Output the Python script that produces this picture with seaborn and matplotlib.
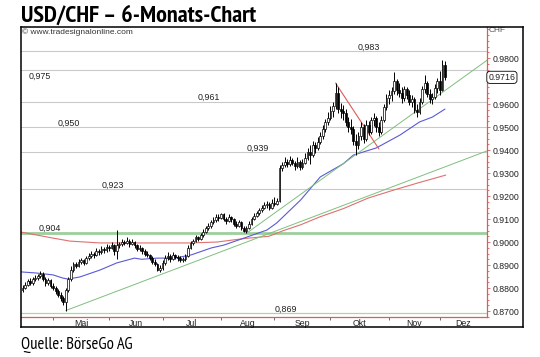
import matplotlib

matplotlib.use("Agg")
import matplotlib.pyplot as plt
import numpy as np
import pandas as pd
import seaborn as sns
from matplotlib.ticker import MultipleLocator

# --- data --------------------------------------------------------------------------------
FIRST_DAY = "2014-04-15"  # first daily candle; one bar per weekday

opens = [
    0.8790, 0.8800, 0.8815, 0.8830, 0.8822, 0.8838, 0.8845, 0.8852, 0.8860, 0.8840, 0.8820, 0.8835,
    0.8810, 0.8800, 0.8785, 0.8770, 0.8755, 0.8740, 0.8790, 0.8840, 0.8880, 0.8905,
    0.8895, 0.8915, 0.8920, 0.8910, 0.8930, 0.8940, 0.8950, 0.8945, 0.8960, 0.8955,
    0.8970, 0.8965, 0.8980, 0.8975, 0.8985, 0.8960, 0.8985, 0.8990, 0.9000, 0.8995,
    0.9005, 0.8990, 0.9000, 0.8985, 0.8970, 0.8975, 0.8960, 0.8950, 0.8945, 0.8930,
    0.8915, 0.8905, 0.8880, 0.8885, 0.8910, 0.8930, 0.8940, 0.8925, 0.8945, 0.8935,
    0.8930, 0.8920, 0.8925, 0.8940, 0.8975, 0.8995, 0.9005, 0.9020, 0.9015, 0.9030,
    0.9045, 0.9060, 0.9070, 0.9085, 0.9095, 0.9110, 0.9105, 0.9120, 0.9100, 0.9090,
    0.9110, 0.9100, 0.9080, 0.9070, 0.9085, 0.9060, 0.9050, 0.9060, 0.9080, 0.9100,
    0.9115, 0.9125, 0.9140, 0.9150, 0.9160, 0.9165, 0.9150, 0.9170, 0.9165, 0.9180,
    0.9320, 0.9335, 0.9350, 0.9340, 0.9355, 0.9345, 0.9330, 0.9350, 0.9325, 0.9345,
    0.9365, 0.9390, 0.9380, 0.9420, 0.9410, 0.9435, 0.9460, 0.9490, 0.9520, 0.9540,
    0.9570, 0.9590, 0.9650, 0.9580, 0.9570, 0.9560, 0.9520, 0.9500, 0.9490, 0.9440,
    0.9420, 0.9460, 0.9500, 0.9450, 0.9510, 0.9480, 0.9530, 0.9540, 0.9500, 0.9480,
    0.9530, 0.9585, 0.9625, 0.9640, 0.9655, 0.9700, 0.9660, 0.9650, 0.9625, 0.9665,
    0.9640, 0.9610, 0.9620, 0.9575, 0.9565, 0.9610, 0.9665, 0.9690, 0.9645, 0.9620,
    0.9630, 0.9670, 0.9700, 0.9660, 0.9770,
]
highs = [
    0.8812, 0.8825, 0.8840, 0.8842, 0.8848, 0.8855, 0.8862, 0.8872, 0.8868, 0.8848, 0.8845, 0.8840,
    0.8822, 0.8808, 0.8795, 0.8782, 0.8765, 0.8800, 0.8850, 0.8895, 0.8915, 0.8912,
    0.8925, 0.8932, 0.8928, 0.8940, 0.8952, 0.8962, 0.8958, 0.8972, 0.8968, 0.8982,
    0.8978, 0.8992, 0.8988, 0.8998, 0.8990, 0.9052, 0.9002, 0.9015, 0.9010, 0.9020,
    0.9012, 0.9012, 0.9005, 0.8992, 0.8988, 0.8980, 0.8968, 0.8962, 0.8950, 0.8938,
    0.8925, 0.8910, 0.8898, 0.8920, 0.8942, 0.8955, 0.8948, 0.8955, 0.8950, 0.8942,
    0.8938, 0.8935, 0.8950, 0.8985, 0.9005, 0.9015, 0.9030, 0.9028, 0.9040, 0.9055,
    0.9070, 0.9082, 0.9095, 0.9108, 0.9122, 0.9120, 0.9128, 0.9125, 0.9108, 0.9120,
    0.9115, 0.9105, 0.9090, 0.9095, 0.9090, 0.9068, 0.9070, 0.9090, 0.9110, 0.9125,
    0.9135, 0.9150, 0.9162, 0.9172, 0.9180, 0.9172, 0.9185, 0.9195, 0.9190, 0.9335,
    0.9350, 0.9368, 0.9362, 0.9375, 0.9365, 0.9352, 0.9368, 0.9358, 0.9360, 0.9385,
    0.9410, 0.9420, 0.9440, 0.9435, 0.9455, 0.9480, 0.9510, 0.9535, 0.9565, 0.9590,
    0.9610, 0.9691, 0.9675, 0.9605, 0.9595, 0.9580, 0.9545, 0.9535, 0.9505, 0.9470,
    0.9480, 0.9522, 0.9515, 0.9530, 0.9525, 0.9545, 0.9562, 0.9550, 0.9520, 0.9550,
    0.9600, 0.9645, 0.9660, 0.9672, 0.9739, 0.9710, 0.9690, 0.9675, 0.9680, 0.9675,
    0.9660, 0.9640, 0.9632, 0.9600, 0.9625, 0.9680, 0.9726, 0.9700, 0.9665, 0.9650,
    0.9685, 0.9713, 0.9745, 0.9791, 0.9785,
]
lows = [
    0.8782, 0.8795, 0.8808, 0.8812, 0.8815, 0.8830, 0.8835, 0.8842, 0.8832, 0.8810, 0.8815, 0.8800,
    0.8790, 0.8775, 0.8760, 0.8742, 0.8728, 0.8702, 0.8782, 0.8832, 0.8870, 0.8885,
    0.8890, 0.8905, 0.8898, 0.8905, 0.8922, 0.8932, 0.8930, 0.8940, 0.8942, 0.8950,
    0.8952, 0.8958, 0.8962, 0.8968, 0.8942, 0.8925, 0.8975, 0.8982, 0.8985, 0.8990,
    0.8980, 0.8985, 0.8975, 0.8962, 0.8962, 0.8950, 0.8940, 0.8935, 0.8922, 0.8905,
    0.8895, 0.8872, 0.8870, 0.8880, 0.8902, 0.8922, 0.8915, 0.8920, 0.8925, 0.8918,
    0.8912, 0.8912, 0.8918, 0.8935, 0.8968, 0.8985, 0.8998, 0.9005, 0.9010, 0.9022,
    0.9038, 0.9052, 0.9062, 0.9078, 0.9088, 0.9092, 0.9098, 0.9092, 0.9078, 0.9085,
    0.9088, 0.9070, 0.9062, 0.9065, 0.9052, 0.9042, 0.9038, 0.9055, 0.9075, 0.9095,
    0.9108, 0.9118, 0.9132, 0.9142, 0.9150, 0.9140, 0.9145, 0.9158, 0.9160, 0.9172,
    0.9310, 0.9325, 0.9328, 0.9332, 0.9335, 0.9315, 0.9322, 0.9312, 0.9318, 0.9338,
    0.9355, 0.9340, 0.9370, 0.9385, 0.9400, 0.9425, 0.9450, 0.9480, 0.9510, 0.9530,
    0.9545, 0.9580, 0.9560, 0.9540, 0.9530, 0.9505, 0.9480, 0.9470, 0.9420, 0.9378,
    0.9405, 0.9445, 0.9430, 0.9440, 0.9465, 0.9470, 0.9505, 0.9480, 0.9462, 0.9470,
    0.9520, 0.9575, 0.9600, 0.9615, 0.9645, 0.9640, 0.9630, 0.9605, 0.9615, 0.9620,
    0.9595, 0.9585, 0.9560, 0.9543, 0.9555, 0.9600, 0.9650, 0.9630, 0.9605, 0.9598,
    0.9620, 0.9650, 0.9640, 0.9655, 0.9705,
]
closes = [
    0.8800, 0.8815, 0.8830, 0.8822, 0.8838, 0.8845, 0.8852, 0.8860, 0.8840, 0.8820, 0.8835, 0.8810,
    0.8800, 0.8785, 0.8770, 0.8755, 0.8740, 0.8790, 0.8840, 0.8880, 0.8905, 0.8895,
    0.8915, 0.8920, 0.8910, 0.8930, 0.8940, 0.8950, 0.8945, 0.8960, 0.8955, 0.8970,
    0.8965, 0.8980, 0.8975, 0.8985, 0.8960, 0.8985, 0.8990, 0.9000, 0.8995, 0.9005,
    0.8990, 0.9000, 0.8985, 0.8970, 0.8975, 0.8960, 0.8950, 0.8945, 0.8930, 0.8915,
    0.8905, 0.8880, 0.8885, 0.8910, 0.8930, 0.8940, 0.8925, 0.8945, 0.8935, 0.8930,
    0.8920, 0.8925, 0.8940, 0.8975, 0.8995, 0.9005, 0.9020, 0.9015, 0.9030, 0.9045,
    0.9060, 0.9070, 0.9085, 0.9095, 0.9110, 0.9105, 0.9120, 0.9100, 0.9090, 0.9110,
    0.9100, 0.9080, 0.9070, 0.9085, 0.9060, 0.9050, 0.9060, 0.9080, 0.9100, 0.9115,
    0.9125, 0.9140, 0.9150, 0.9160, 0.9165, 0.9150, 0.9170, 0.9165, 0.9180, 0.9320,
    0.9335, 0.9350, 0.9340, 0.9355, 0.9345, 0.9330, 0.9350, 0.9325, 0.9345, 0.9365,
    0.9390, 0.9380, 0.9420, 0.9410, 0.9435, 0.9460, 0.9490, 0.9520, 0.9540, 0.9570,
    0.9590, 0.9650, 0.9580, 0.9570, 0.9560, 0.9520, 0.9500, 0.9490, 0.9440, 0.9420,
    0.9460, 0.9500, 0.9450, 0.9510, 0.9480, 0.9530, 0.9540, 0.9500, 0.9480, 0.9530,
    0.9585, 0.9625, 0.9640, 0.9655, 0.9700, 0.9660, 0.9650, 0.9625, 0.9665, 0.9640,
    0.9610, 0.9620, 0.9575, 0.9565, 0.9610, 0.9665, 0.9690, 0.9645, 0.9620, 0.9630,
    0.9670, 0.9700, 0.9660, 0.9770, 0.9716,
]

# moving averages (bar index, value)
ma_fast_bar = [-0.5, 5.7, 12, 15.9, 17.9, 22.5, 30.4, 37, 44, 46.8, 53, 59.7, 66.3, 74.1,
               79.2, 87, 96, 99.9, 109.3, 117, 126, 130, 139, 148.3, 156, 161, 166]
ma_fast = [0.8870, 0.8865, 0.8857, 0.8843, 0.8839, 0.8848, 0.8878, 0.8909, 0.8930, 0.8925,
           0.8930, 0.8930, 0.8944, 0.8974, 0.8987, 0.9017, 0.9052, 0.9083, 0.9183, 0.9283,
           0.9340, 0.9378, 0.9409, 0.9465, 0.9522, 0.9543, 0.9578]
ma_slow_bar = [-0.5, 12, 18.6, 30.4, 44, 53, 66.3, 76.5, 87, 96.8, 102.6, 109.3, 117, 126,
               135.8, 145.6, 155.4, 166.3]
ma_slow = [0.9043, 0.9017, 0.9004, 0.8996, 0.8996, 0.8996, 0.8996, 0.9000, 0.9015, 0.9025,
           0.9050, 0.9075, 0.9110, 0.9145, 0.9191, 0.9225, 0.9257, 0.9291]

# drawn trend lines (start/end bar, start/end value)
support_low_bar = [17, 182.5]
support_low = [0.8702, 0.9396]
support_up_bar = [88, 182.5]
support_up = [0.9038, 0.9790]
resist_bar = [123, 140]
resist = [0.9691, 0.9405]

# horizontal marks with their labels
levels = [0.983, 0.975, 0.961, 0.950, 0.939, 0.923, 0.904, 0.869]
level_labels = ["0,983", "0,975", "0,961", "0,950", "0,939", "0,923", "0,904", "0,869"]

price_ticks = [0.98, 0.96, 0.95, 0.94, 0.93, 0.92, 0.91, 0.90, 0.89, 0.88, 0.87]
last_price = 0.9716
month_names = {5: "Mai", 6: "Jun", 7: "Jul", 8: "Aug", 9: "Sep", 10: "Okt", 11: "Nov", 12: "Dez"}

# --- layout / style (not data) ------------------------------------------------------------
W, H = 540, 357
X_MIN, X_MAX = -0.6, 182.5
Y_MIN, Y_MAX = 0.8674, 0.99348
label_bar = [136.1, 6.9, 73.3, 18.3, 92.5, 35.6, 10.8, 103.5]  # x centre of each level label
RED = "#e05a5a"
GREEN = "#7fbf7f"
BLUE = "#5a5ad6"
GRID = "#c9c9c9"
TXT = "#222222"
HEAD_FONT = ["PT Sans Narrow", "Source Sans 3", "DejaVu Sans"]

sns.set_theme(style="white")
plt.rcParams["font.family"] = ["Liberation Sans", "DejaVu Sans"]

fig = plt.figure(figsize=(W / 100, H / 100), dpi=100)
ax = fig.add_axes([21 / W, 40 / H, 466 / W, 290 / H])
ax.patch.set_visible(False)

# outer black frame round plot and price scale (drawn as an empty axes on top)
frame = fig.add_axes([21 / W, 30 / H, 502 / W, 300 / H], zorder=5)
frame.patch.set_visible(False)
frame.set_xticks([])
frame.set_yticks([])
for sp in frame.spines.values():
    sp.set_visible(True)
    sp.set_color("black")
    sp.set_linewidth(1.1)

dates = pd.bdate_range(FIRST_DAY, periods=len(closes))
bars = np.arange(len(closes))
o, h, l, c = (np.asarray(v) for v in (opens, highs, lows, closes))

# horizontal support/resistance marks
for lvl in levels:
    if lvl == 0.904:
        ax.axhline(lvl, color="#9ccf9c", lw=2.0, zorder=1)
    elif lvl == 0.869:
        ax.axhline(lvl, color="#a8d8a8", lw=0.9, zorder=1)
    else:
        ax.axhline(lvl, color=GRID, lw=0.8, zorder=1)
for lvl, txt, xb in zip(levels, level_labels, label_bar):
    below = lvl == 0.975
    ax.annotate(txt, (xb, lvl), xytext=(0, -2.5 if below else 1.6), textcoords="offset pixels",
                ha="center", va="top" if below else "baseline", fontsize=6.4, color=TXT)

# moving averages and trend lines
sns.lineplot(x=ma_slow_bar, y=ma_slow, ax=ax, color="#e07070", lw=0.8, zorder=2)
sns.lineplot(x=ma_fast_bar, y=ma_fast, ax=ax, color=BLUE, lw=0.8, zorder=2)
sns.lineplot(x=support_low_bar, y=support_low, ax=ax, color=GREEN, lw=0.7, zorder=2)
sns.lineplot(x=support_up_bar, y=support_up, ax=ax, color=GREEN, lw=0.7, zorder=2)
sns.lineplot(x=resist_bar, y=resist, ax=ax, color=RED, lw=0.8, zorder=2)

# candles
up = c >= o
ax.vlines(bars, l, h, color="black", lw=0.7, zorder=3)
body = np.maximum(np.abs(c - o), 0.00025)
ax.bar(bars[up], body[up], bottom=o[up], width=0.7, color="white", edgecolor="black",
       lw=0.5, zorder=4)
ax.bar(bars[~up], body[~up], bottom=c[~up], width=0.7, color="black", edgecolor="black",
       lw=0.5, zorder=4)

ax.set_xlim(X_MIN, X_MAX)
ax.set_ylim(Y_MIN, Y_MAX)
ax.set_xlabel("")
ax.set_ylabel("")

# price axis on the right
ax.yaxis.tick_right()
ax.set_yticks(price_ticks)
ax.set_yticklabels([f"{v:.4f}" for v in price_ticks])
ax.yaxis.set_minor_locator(MultipleLocator(0.0025))
ax.tick_params(axis="y", which="both", right=True, left=False, direction="out", color=RED,
               width=0.6, labelcolor=TXT, labelsize=6.3, pad=1.8)
ax.tick_params(axis="y", which="major", length=2.5)
ax.tick_params(axis="y", which="minor", length=1.3)

# month axis: ticks at month starts, names centred in each month
starts = [i for i in range(1, len(dates)) if dates[i].month != dates[i - 1].month]
ends = starts[1:] + [X_MAX]
ax.set_xticks(starts)
ax.set_xticklabels([""] * len(starts))
ax.set_xticks([(a + b) / 2 for a, b in zip(starts, ends)], minor=True)
ax.set_xticklabels([month_names[dates[i].month] for i in starts], minor=True)
ax.tick_params(axis="x", which="major", bottom=True, direction="out", length=2.2, width=0.6,
               color="#555555")
ax.tick_params(axis="x", which="minor", bottom=True, length=0, labelsize=6.3, labelcolor=TXT,
               pad=1.2)

for side in ("left", "top"):
    ax.spines[side].set_visible(False)
for side in ("right", "bottom"):
    ax.spines[side].set_color(RED)
    ax.spines[side].set_linewidth(0.9)

# last price box
ax.text(1.003, last_price, f"{last_price:.4f}", transform=ax.get_yaxis_transform(),
        ha="left", va="center", fontsize=6.3, color=TXT, zorder=6,
        bbox=dict(boxstyle="round,pad=0.18,rounding_size=0.35", fc="white", ec="black", lw=0.6))

ax.text(0.003, 1 - 1 / 290, "\u00a9 www.tradesignalonline.com", transform=ax.transAxes,
        ha="left", va="top", fontsize=6.0, color="#333333")
fig.text(489 / W, 1 - 31 / H, "CHF", ha="left", va="center", fontsize=6.0, color="#555555")

fig.text(21 / W, 1 - 22 / H, "USD/CHF \u2013 6-Monats-Chart", ha="left", va="baseline",
         fontsize=17.4, fontweight="bold", color="black", family=HEAD_FONT)
fig.text(21 / W, 1 - 349 / H, "Quelle: B\u00f6rseGo AG", ha="left", va="baseline",
         fontsize=12.0, color="black", family=HEAD_FONT)

fig.savefig("out.png", dpi=100)
plt.close(fig)
